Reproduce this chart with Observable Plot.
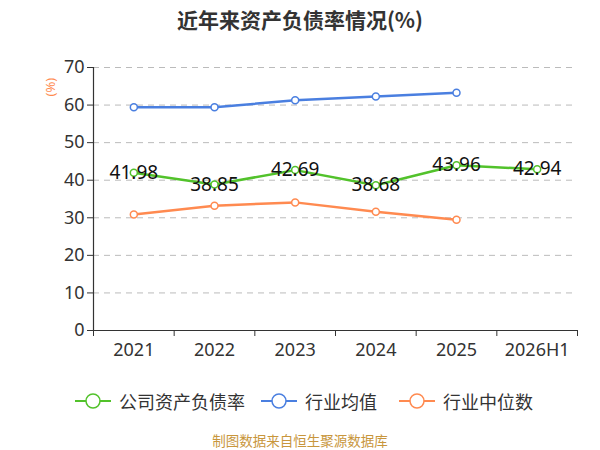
<!DOCTYPE html>
<html><head><meta charset="utf-8">
<script src="https://cdn.jsdelivr.net/npm/d3@7"></script>
<script src="https://cdn.jsdelivr.net/npm/@observablehq/plot@0.6"></script>
<style>
body{margin:0;background:#fff;font-family:"Noto Sans","Noto Sans CJK SC",sans-serif;}
#wrap{width:600px;height:450px;position:relative;overflow:hidden;}
#title{height:40px;line-height:38px;text-align:center;font-size:21px;font-weight:bold;color:#333;font-family:"Noto Sans CJK SC","Noto Sans",sans-serif;}
#legend{position:absolute;top:386px;left:0;width:600px;height:30px;font-size:18px;color:#333;font-family:"Noto Sans CJK SC",sans-serif;}
.li{position:absolute;top:0;display:flex;align-items:center;height:30px;}
.li svg{margin-right:8px;}
#caption{position:absolute;top:432px;height:17px;line-height:17px;width:600px;text-align:center;font-size:13.5px;color:#c8963c;font-family:"Noto Sans CJK SC",sans-serif;}
</style></head>
<body><div id="wrap">
<div id="title">近年来资产负债率情况(%)</div>
<div id="chart"></div>
<div id="legend"></div>
<div id="caption">制图数据来自恒生聚源数据库</div>
</div>
<script>
const categories = ["2021","2022","2023","2024","2025","2026H1"];
const companyRate = [41.98,38.85,42.69,38.68,43.96,42.94];
const industryAvg = [59.4,59.4,61.3,62.3,63.3];
const industryMedian = [30.9,33.2,34.1,31.6,29.5];
const yTicks = [0,10,20,30,40,50,60,70];
const seriesNames = ["公司资产负债率","行业均值","行业中位数"];
const colors = ["#52c22b","#4a7fe0","#ff8a50"];

const toRows = (vals, s) => vals.map((v,i)=>({x:i+0.5, cat:categories[i], v, s}));
const comp = toRows(companyRate, seriesNames[0]);
const avg = toRows(industryAvg, seriesNames[1]);
const med = toRows(industryMedian, seriesNames[2]);
const boundaries = d3.range(categories.length+1);

const lineOpts = (data,c)=>[
  Plot.line(data,{x:"x",y:"v",stroke:c,strokeWidth:2.5}),
  Plot.dot(data,{x:"x",y:"v",r:3.5,fill:"#fff",stroke:c,strokeWidth:1.5})
];

const chart = Plot.plot({
  width:600, height:340,
  marginTop:27, marginBottom:50, marginLeft:93, marginRight:23,
  style:{fontFamily:"'Noto Sans','Noto Sans CJK SC',sans-serif",fontSize:"18px",color:"#333",background:"transparent"},
  x:{type:"linear",domain:[0,categories.length]},
  y:{domain:[0,70]},
  marks:[
    Plot.gridY(yTicks.filter(d=>d>0),{stroke:"#bbb",strokeOpacity:1,strokeDasharray:"6,5"}),
    Plot.axisY({ticks:yTicks,tickSize:6,tickPadding:3,label:null,fontSize:18,tickFormat:d=>d}),
    Plot.ruleX([0],{y1:0,y2:70,stroke:"#333",strokeWidth:1.2}),
    Plot.ruleY([0],{stroke:"#333",strokeWidth:1.2}),
    Plot.axisX({ticks:boundaries,tickSize:6,tickFormat:()=>"",label:null}),
    Plot.axisX({ticks:categories.map((c,i)=>i+0.5),tickSize:0,tickPadding:13,tickFormat:d=>categories[Math.floor(d)],label:null,fontSize:18}),
    Plot.text(["(%)"],{frameAnchor:"top-left",dx:-48,dy:29,rotate:-90,fill:"#ff8a50",fontSize:13}),
    ...lineOpts(avg,colors[1]),
    ...lineOpts(med,colors[2]),
    ...lineOpts(comp,colors[0]),
    Plot.text(comp,{x:"x",y:"v",text:d=>d.v.toFixed(2),fill:"#111",fontSize:19})
  ]
});
document.getElementById("chart").appendChild(chart);

const legend = document.getElementById("legend");
const lefts=[75,261,399];
seriesNames.forEach((n,i)=>{
  const d=document.createElement("div");d.className="li";d.style.left=lefts[i]+"px";
  d.innerHTML=`<svg width="36" height="20"><line x1="0" y1="10" x2="36" y2="10" stroke="${colors[i]}" stroke-width="2"/><circle cx="18" cy="10" r="7" fill="#fff" stroke="${colors[i]}" stroke-width="1.5"/></svg><span>${n}</span>`;
  legend.appendChild(d);
});
</script>
</body></html>
